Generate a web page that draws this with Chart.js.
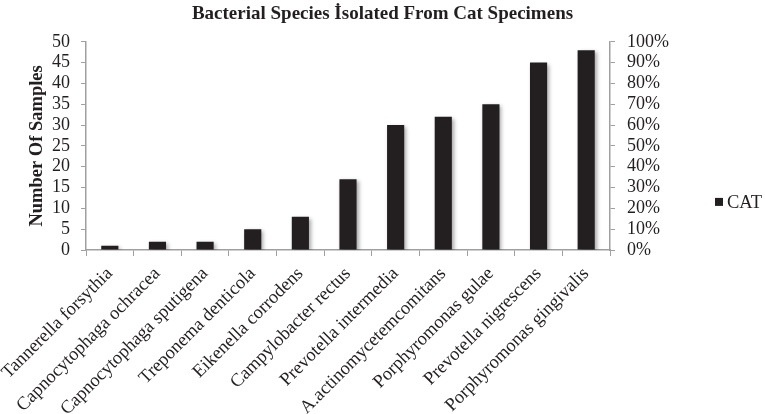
<!DOCTYPE html>
<html>
<head>
<meta charset="utf-8">
<script src="https://cdn.jsdelivr.net/npm/chart.js@4/dist/chart.umd.min.js"></script>
<style>
  html, body { margin: 0; padding: 0; background: #fff; }
  #wrap { width: 765px; height: 414px; }
</style>
</head>
<body>
<div id="wrap"><canvas id="chart" width="765" height="414"></canvas></div>
<script>
const species = [
  "Tannerella forsythia",
  "Capnocytophaga ochracea",
  "Capnocytophaga sputigena",
  "Treponema denticola",
  "Eikenella corrodens",
  "Campylobacter rectus",
  "Prevotella intermedia",
  "A.actinomycetemcomitans",
  "Porphyromonas gulae",
  "Prevotella nigrescens",
  "Porphyromonas gingivalis"
];
const catSamples = [1, 2, 2, 5, 8, 17, 30, 32, 35, 45, 48];
const countTicks = { min: 0, max: 50, step: 5 };
const percentTicks = { min: 0, max: 1, step: 0.1 };

const serif = "'Liberation Serif', 'DejaVu Serif', serif";
const axisGray = "#a0a0a0";
const textColor = "#231f20";

// soft grey shadow behind the bars, like the office chart
const barShadow = {
  id: "barShadow",
  beforeDatasetsDraw(chart) {
    const ctx = chart.ctx;
    ctx.save();
    ctx.shadowColor = "rgba(0,0,0,0.35)";
    ctx.shadowBlur = 4;
    ctx.shadowOffsetX = 2;
    ctx.shadowOffsetY = 2;
  },
  afterDatasetsDraw(chart) {
    chart.ctx.restore();
  }
};

// legend sits far right, past the percent axis; drawn from dataset labels
const sideLegend = {
  id: "sideLegend",
  afterDraw(chart) {
    const ctx = chart.ctx;
    const midY = (chart.chartArea.top + chart.chartArea.bottom) / 2 + 56;
    ctx.save();
    ctx.font = "18.5px " + serif;
    ctx.textBaseline = "middle";
    chart.data.datasets.forEach((ds, i) => {
      const y = midY + i * 22;
      ctx.fillStyle = ds.backgroundColor;
      ctx.fillRect(715, y - 4, 8, 8);
      ctx.fillStyle = textColor;
      ctx.fillText(ds.label, 727, y + 1);
    });
    ctx.restore();
  }
};

new Chart(document.getElementById("chart"), {
  type: "bar",
  data: {
    labels: species,
    datasets: [{
      label: "CAT",
      data: catSamples,
      backgroundColor: "#231f20",
      borderWidth: 0,
      barPercentage: 0.36,
      categoryPercentage: 1,
      yAxisID: "y"
    }]
  },
  options: {
    responsive: false,
    animation: false,
    devicePixelRatio: 1,
    layout: { padding: 0 },
    plugins: {
      title: {
        display: true,
        text: "Bacterial Species İsolated From Cat Specimens",
        color: textColor,
        font: { family: serif, size: 19, weight: "bold" },
        padding: { top: 3, bottom: 16 }
      },
      legend: { display: false },
      tooltip: { enabled: false }
    },
    scales: {
      x: {
        offset: true,
        grid: { display: true, offset: true, drawOnChartArea: false, color: axisGray, tickLength: 6, tickColor: axisGray },
        border: { color: axisGray, width: 1.5 },
        ticks: {
          autoSkip: false,
          minRotation: 45,
          maxRotation: 45,
          color: textColor,
          padding: 7,
          font: { family: serif, size: 18.5 }
        },
        afterFit(scale) {
          scale.height = 164;
          scale.paddingLeft = 0;
          scale.paddingRight = 0;
        }
      },
      y: {
        position: "left",
        min: countTicks.min,
        max: countTicks.max,
        grid: { drawOnChartArea: false, color: axisGray, tickLength: 5, tickColor: axisGray },
        border: { color: axisGray, width: 1.5 },
        ticks: {
          autoSkip: false,
          stepSize: countTicks.step,
          color: textColor,
          padding: 11,
          font: { family: serif, size: 18 }
        },
        title: {
          display: true,
          text: "Number Of Samples",
          color: textColor,
          padding: { top: 26, bottom: 0 },
          font: { family: serif, size: 18.5, weight: "bold" }
        },
        afterFit(scale) { scale.width = 86; }
      },
      y1: {
        position: "right",
        display: true,
        min: percentTicks.min,
        max: percentTicks.max,
        grid: { drawOnChartArea: false, color: axisGray, tickLength: 5, tickColor: axisGray },
        border: { color: axisGray, width: 1.5 },
        ticks: {
          autoSkip: false,
          stepSize: percentTicks.step,
          color: textColor,
          padding: 12,
          font: { family: serif, size: 18 },
          callback: (v) => Math.round(v * 100) + "%"
        },
        afterFit(scale) { scale.width = 155; }
      }
    }
  },
  plugins: [barShadow, sideLegend]
});
</script>
</body>
</html>
